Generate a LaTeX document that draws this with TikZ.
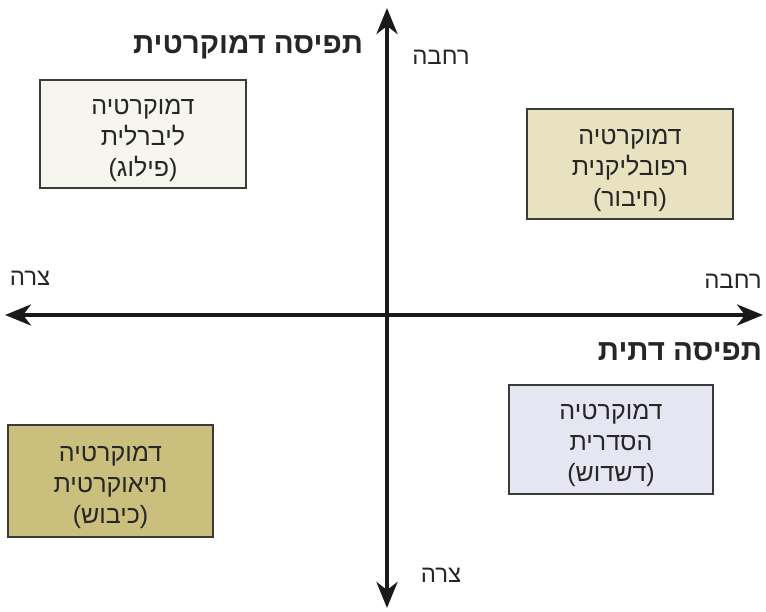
\documentclass[tikz,border=0pt]{standalone}
\usepackage{fontspec}
\setmainfont{Liberation Sans}
\newfontfamily\heb[Script=Hebrew]{Liberation Sans}
\TeXXeTstate=1
\usetikzlibrary{arrows.meta}
\definecolor{boxline}{HTML}{3A3A3A}
\definecolor{fillTL}{HTML}{F7F6EE}
\definecolor{fillTR}{HTML}{E8E2C0}
\definecolor{fillBL}{HTML}{CBBF7E}
\definecolor{fillBR}{HTML}{E6E6F2}
\definecolor{axiscol}{HTML}{1A1A1A}
\tikzset{
  quadbox/.style={draw=boxline, line width=1.3pt, inner sep=0pt},
  boxtext/.style={align=center, inner sep=0pt,
    font=\heb\fontsize{25}{31}\selectfont, text=black!85},
  axisline/.style={draw=axiscol, line width=4pt, -{Stealth[length=26pt,width=21pt,inset=8pt]}},
  axlabel/.style={font=\heb\fontsize{24}{28}\selectfont, text=black!85},
  titlelabel/.style={font=\heb\bfseries\fontsize{29.5}{34}\selectfont, text=black!85}
}
\begin{document}
\begin{tikzpicture}[x=1pt,y=-1pt]
\useasboundingbox (0,0) rectangle (766,612);
\coordinate (c) at (387,315);
\coordinate (top) at (387,8);
\coordinate (bot) at (387,608);
\coordinate (lft) at (5,315);
\coordinate (rgt) at (763,315);
\draw[axisline] (c) -- (top);
\draw[axisline] (c) -- (bot);
\draw[axisline] (c) -- (lft);
\draw[axisline] (c) -- (rgt);

\node[quadbox, fill=fillTL, minimum width=206pt, minimum height=108pt] (tl) at (143,134) {};
\node[quadbox, fill=fillTR, minimum width=206pt, minimum height=110pt] (tr) at (630,164) {};
\node[quadbox, fill=fillBR, minimum width=204pt, minimum height=109pt] (br) at (611,439.5) {};
\node[quadbox, fill=fillBL, minimum width=205pt, minimum height=112pt] (bl) at (110.5,481) {};

\node[boxtext] (tlt) at ([yshift=-6pt]tl.center)
  {\beginR דמוקרטיה\endR\\\beginR ליברלית\endR\\\beginR (פילוג)\endR};
\node[boxtext] (trt) at ([yshift=-6pt]tr.center)
  {\beginR דמוקרטיה\endR\\\beginR רפובליקנית\endR\\\beginR (חיבור)\endR};
\node[boxtext] (brt) at ([yshift=-6pt]br.center)
  {\beginR דמוקרטיה\endR\\\beginR הסדרית\endR\\\beginR (דשדוש)\endR};
\node[boxtext] (blt) at ([yshift=-6pt]bl.center)
  {\beginR דמוקרטיה\endR\\\beginR תיאוקרטית\endR\\\beginR (כיבוש)\endR};

\node[titlelabel] (t1) at (248,47) {\beginR תפיסה דמוקרטית\endR};
\node[titlelabel] (t2) at (680,352) {\beginR תפיסה דתית\endR};
\node[axlabel] (l1) at (441,57) {\beginR רחבה\endR};
\node[axlabel] (l2) at (30,278) {\beginR צרה\endR};
\node[axlabel] (l3) at (733,281) {\beginR רחבה\endR};
\node[axlabel] (l4) at (441,575) {\beginR צרה\endR};
\end{tikzpicture}
\end{document}
